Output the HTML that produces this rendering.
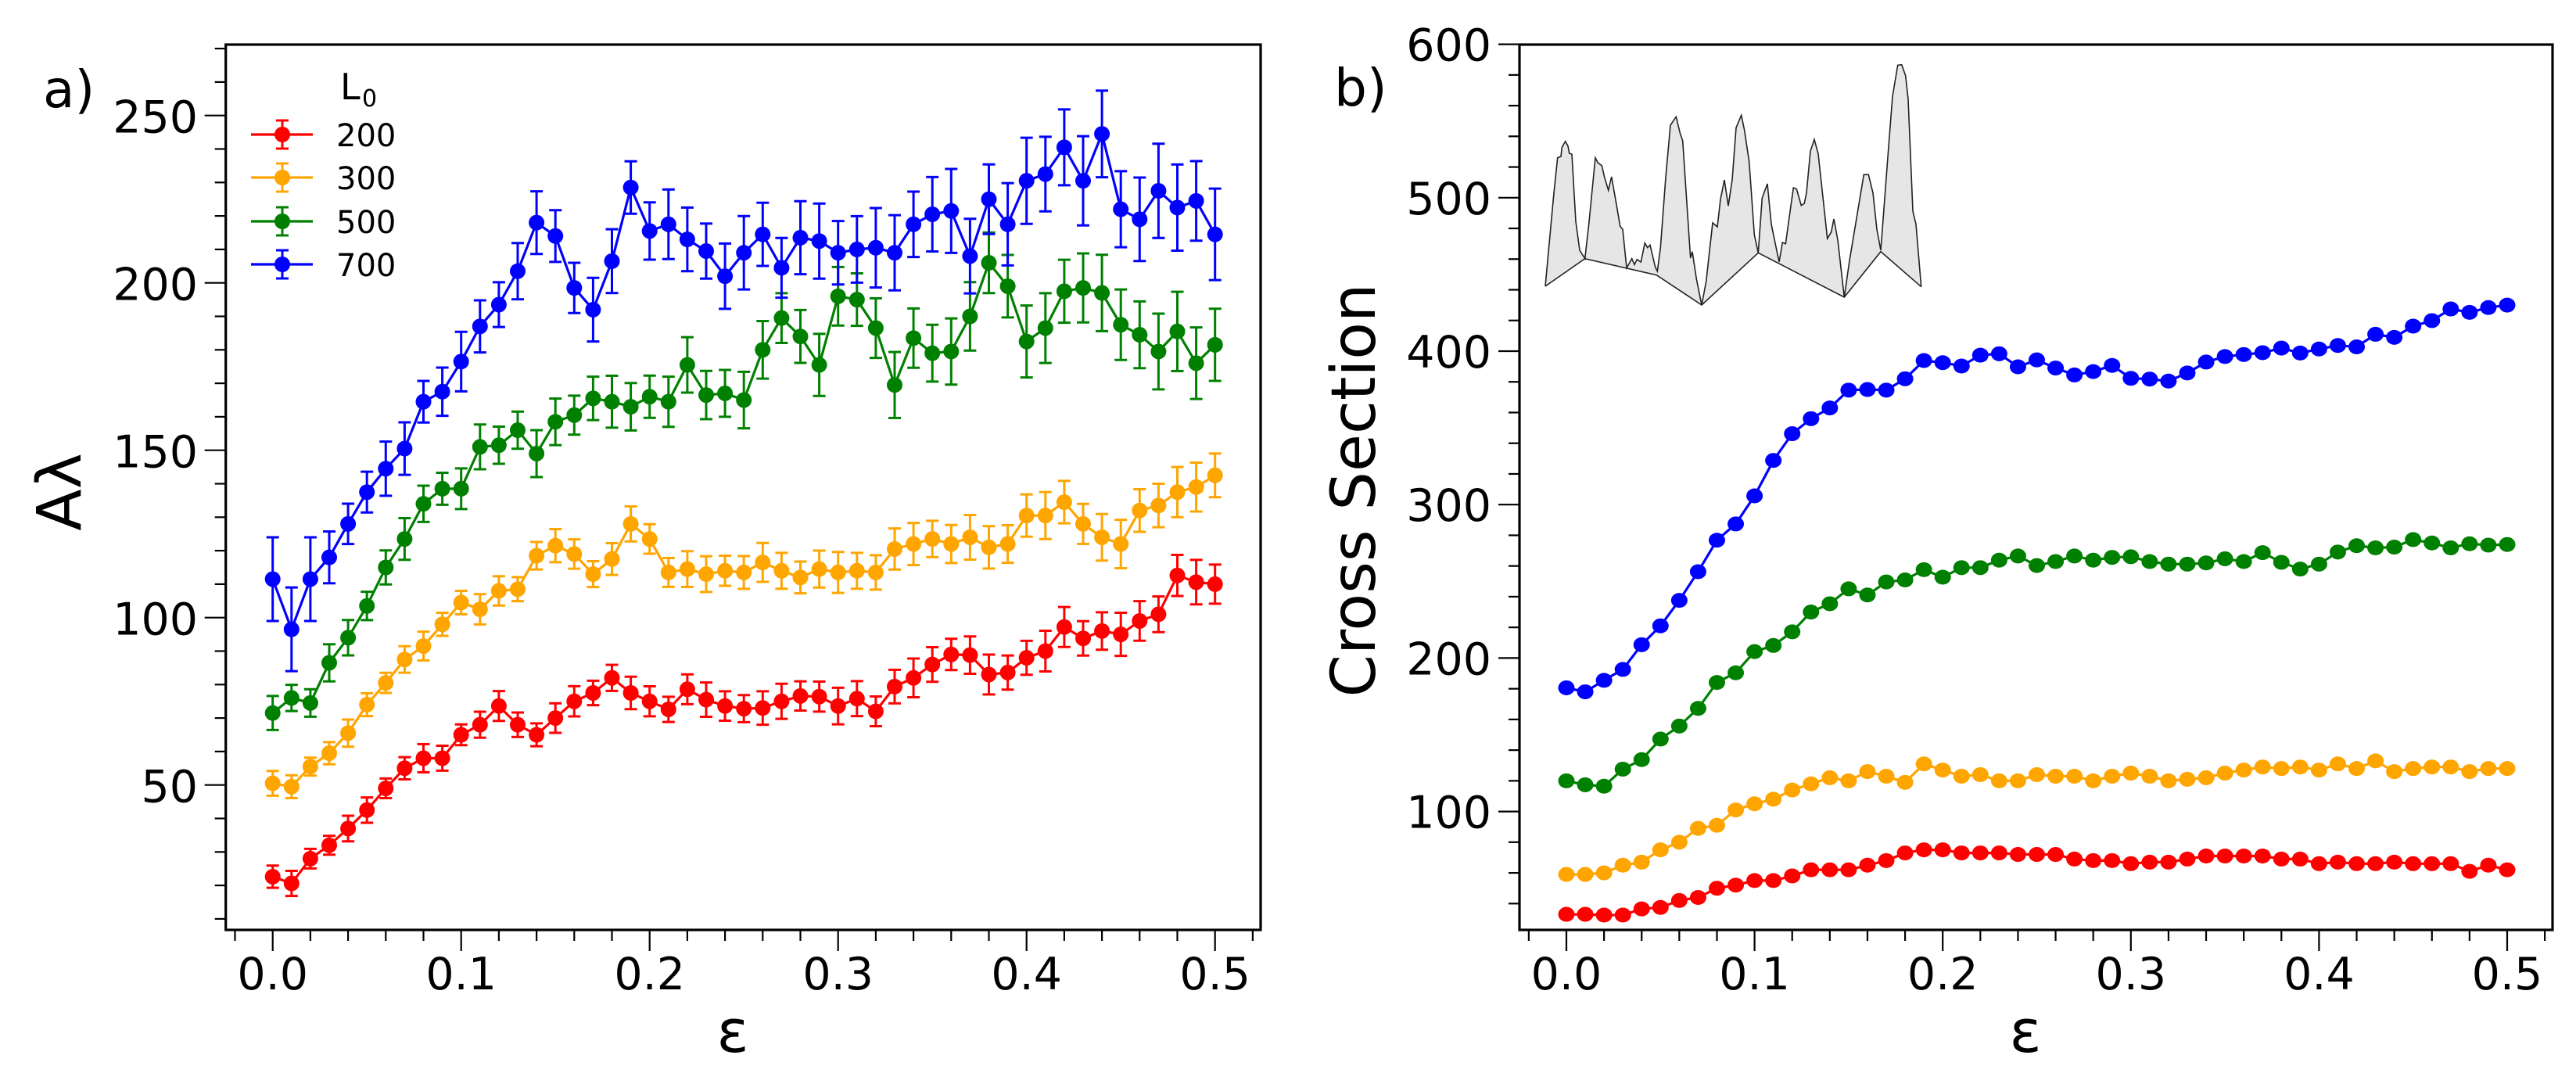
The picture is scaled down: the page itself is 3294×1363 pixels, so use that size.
<!DOCTYPE html>
<html><head><meta charset="utf-8"><style>
html,body{margin:0;padding:0;background:#fff;}
svg{display:block;}
text{font-family:"DejaVu Sans","Liberation Sans",sans-serif;fill:#000;}
</style></head><body>
<svg id="s" width="3294" height="1363" viewBox="0 0 3294 1363" xmlns="http://www.w3.org/2000/svg">
<rect width="3294" height="1363" fill="#fff"/>
<g id="g"></g>
</svg>
<script>
(function(){
const NS="http://www.w3.org/2000/svg";
const G=document.getElementById('g');
function el(t,a,txt){const e=document.createElementNS(NS,t);for(const k in a)e.setAttribute(k,a[k]);if(txt!==undefined)e.textContent=txt;G.appendChild(e);return e;}
const C={r:'#ff0000',o:'#ffa500',g:'#008000',b:'#0000ff'};
const eps=[];for(let i=0;i<=50;i++)eps.push(i/100);

// ---------- Panel a ----------
const A={L:288.7,R:1612,T:57,B:1189,x:e=>348.7+2410*e,y:v=>1217.7-4.28*v};
const aR=[22.6,20.6,28,32,37,42.5,49,55,58,58,65,68,73.6,68,65,70,75,77.5,82,77.5,75,72.6,78.6,75.5,73.6,72.8,73,75,76.6,76.4,73.6,75.8,72,79.4,82,86,89,88.8,83,83.6,88,90,97.2,93.8,96,95,99,101,112.6,110.6,110];
const aO=[50.5,49.5,55.5,59.5,65.5,74,80.5,87.5,91.5,98,104.5,102.5,108,108.5,118.5,121.5,119,113,117.5,128,123.5,113.5,114.5,113,114,113.5,116.5,114,112,114.5,113.5,114,113.5,120.5,122,123.5,122,124,121,122,130.5,130.5,134.5,128,124,122,132,133.5,137.5,139,142.5];
const aG=[71.5,76,74.5,86.5,94,103.5,115,123.5,134,138.5,138.5,151,151.5,156,149,158.5,160.5,165.5,164.5,163,166,164.5,175.5,166.5,167,165,180,189.5,184,175.5,196,195,186.5,169.5,183.5,179,179.5,190,206,199,182.5,186.5,197.5,198.5,197,187.5,184.5,179.5,185.5,176,181.5];
const aB=[111.5,96.5,111.5,118,128,137.5,144.5,150.5,164.5,167.5,176.5,187,193.5,203.5,218,214,198.5,192,206.5,228.5,215.5,217.5,213,209.5,202,209,214.5,204.5,213.5,212.5,209,210,210.5,209,217.5,220.5,221.5,208,225,217.5,230.5,232.5,240.5,230.5,244.5,222,219,227.5,222.5,224.5,214.5];
function err(base,slope,i,seed){return base+slope*i/50+(Math.sin(i*1.7+seed)*0.5+0.5)*base*0.5;}
function drawA(d,col,base,slope,seed){
  let p=d.map((v,i)=>A.x(eps[i]).toFixed(1)+','+A.y(v).toFixed(1)).join(' ');
  el('polyline',{points:p,fill:'none',stroke:col,'stroke-width':3.2});
  d.forEach((v,i)=>{const x=A.x(eps[i]);let e=err(base,slope,i,seed);if(col===C.b&&i<3)e=12.5;
    const y1=A.y(v+e),y2=A.y(v-e);
    el('line',{x1:x,x2:x,y1:y1,y2:y2,stroke:col,'stroke-width':3});
    el('line',{x1:x-8,x2:x+8,y1:y1,y2:y1,stroke:col,'stroke-width':3});
    el('line',{x1:x-8,x2:x+8,y1:y2,y2:y2,stroke:col,'stroke-width':3});
    el('circle',{cx:x,cy:A.y(v),r:10,fill:col});});
}
drawA(aR,C.r,2.5,3,0.3);drawA(aO,C.o,2.5,4,1.1);drawA(aG,C.g,3.5,7,2.2);drawA(aB,C.b,5,7,3.3);

function frame(P){el('rect',{x:P.L,y:P.T,width:P.R-P.L,height:P.B-P.T,fill:'none',stroke:'#000','stroke-width':3.2});}
frame(A);
for(let k=-1;k<=26;k++){const x=A.x(k*0.02);if(x<A.L||x>A.R)continue;const maj=(k%5===0);
  el('line',{x1:x,x2:x,y1:A.B,y2:A.B+(maj?27:14),stroke:'#000','stroke-width':2.2});
  if(maj&&k>=0)el('text',{x:x,y:1265,'font-size':57,'text-anchor':'middle'},(k/50).toFixed(1));}
for(let v=10;v<=270;v+=10){const y=A.y(v);if(y<A.T||y>A.B)continue;const maj=(v%50===0);
  el('line',{x1:A.L,x2:A.L-(maj?27:14),y1:y,y2:y,stroke:'#000','stroke-width':2.2});
  if(maj)el('text',{x:253,y:y+22,'font-size':57,'text-anchor':'end'},String(v));}
el('text',{x:55,y:137,'font-size':66},'a)');
el('text',{x:937,y:1345,'font-size':76,'text-anchor':'middle'},'ε');
el('text',{x:0,y:0,'font-size':78,'text-anchor':'middle',transform:'translate(103,629) rotate(-90)'},'Aλ');
el('text',{x:435,y:127,'font-size':46},'L');
el('text',{x:463,y:136,'font-size':30},'0');
[['200',C.r,172],['300',C.o,227],['500',C.g,283],['700',C.b,338]].forEach(([t,c,y])=>{
  el('line',{x1:321,x2:400,y1:y,y2:y,stroke:c,'stroke-width':3.2});
  el('line',{x1:361,x2:361,y1:y-18,y2:y+18,stroke:c,'stroke-width':3});
  el('line',{x1:353,x2:369,y1:y-18,y2:y-18,stroke:c,'stroke-width':3});
  el('line',{x1:353,x2:369,y1:y+18,y2:y+18,stroke:c,'stroke-width':3});
  el('circle',{cx:361,cy:y,r:10,fill:c});
  el('text',{x:430,y:y+15,'font-size':40},t);});

// ---------- Panel b ----------
const B={L:1943,R:3264,T:57,B:1189,x:e=>2003+2406*e,y:v=>1233.8-1.962*v};
const bB=[180.6,178,185.5,192.6,208.7,221,237.6,256.3,276.8,287.4,305.7,328.8,346.2,356,363,374.6,375,374.6,382,393.9,392.5,390.3,397.4,398.3,389.8,394.3,389,384.5,386.7,390.7,382.3,381.8,380.5,385.8,392.9,396.5,397.8,399,402,398.8,401.4,403.7,402.8,411,409,416.3,419.9,427.5,425.3,428.4,430];
const bG=[120,117.4,116.5,127.6,133.8,147.2,155.7,167.2,184.1,190.4,204.2,208.2,217.1,230,235.4,245.1,241.1,249.6,250.9,257.6,252.7,258.9,258.9,263.8,266.5,260.3,262.9,266.5,263.8,265.6,266,262.9,261.2,261.2,262,264.7,262.9,268.7,262.4,258,261.2,269.1,273.2,271.8,272.3,277.2,275,271.8,274.5,273.6,274];
const bO=[59,59,60,65,67,75,80,89,91,101,105,108,114,118,122,120,126,123,119,131,127,123,124,120,120,124,123,123,120,123,125,123,120,121,122,125,127,129,128,129,127,131,128,133,126,128,129,129,126,128,128];
const bR=[33,33,32.5,32.5,36.5,37.5,42,44,50,52,55,55,58,62,62,62,65,68,73,75,75,73,73,73,72,72,72,69,68,68,66,67,67,69,71,71,71,71,69,69,66,67,66,66,67,66,66,66,61,65,62];
function drawB(d,col){
  el('polyline',{points:d.map((v,i)=>B.x(eps[i]).toFixed(1)+','+B.y(v).toFixed(1)).join(' '),fill:'none',stroke:col,'stroke-width':3.2});
  d.forEach((v,i)=>el('ellipse',{cx:B.x(eps[i]),cy:B.y(v),rx:10.5,ry:9.5,fill:col}));}
drawB(bR,C.r);drawB(bO,C.o);drawB(bG,C.g);drawB(bB,C.b);
frame(B);
for(let k=-1;k<=26;k++){const x=B.x(k*0.02);if(x<B.L||x>B.R)continue;const maj=(k%5===0);
  el('line',{x1:x,x2:x,y1:B.B,y2:B.B+(maj?27:14),stroke:'#000','stroke-width':2.2});
  if(maj&&k>=0)el('text',{x:x,y:1265,'font-size':57,'text-anchor':'middle'},(k/50).toFixed(1));}
for(let v=40;v<=600;v+=20){const y=B.y(v);if(y<B.T-1||y>B.B)continue;const maj=(v%100===0);
  el('line',{x1:B.L,x2:B.L-(maj?27:14),y1:y,y2:y,stroke:'#000','stroke-width':2.2});
  if(maj)el('text',{x:1907,y:y+21,'font-size':57,'text-anchor':'end'},String(v));}
el('text',{x:1706,y:135,'font-size':66},'b)');
el('text',{x:2590,y:1345,'font-size':76,'text-anchor':'middle'},'ε');
el('text',{x:0,y:0,'font-size':78,'text-anchor':'middle',textLength:529,lengthAdjust:'spacingAndGlyphs',transform:'translate(1758,627) rotate(-90)'},'Cross  Section');

const topPts=[[48,918],[80,570],[95,425],[108,420],[112,385],[125,362],[135,380],[140,408],[150,412],[165,670],[180,780],[200,812],[215,680],[240,425],[250,445],[265,455],[275,500],[290,550],[302,498],[322,610],[335,688],[345,700],[360,848],[380,812],[390,835],[400,815],[415,825],[430,752],[440,770],[450,760],[470,845],[478,860],[490,770],[510,500],[528,300],[550,268],[565,330],[575,360],[605,810],[612,785],[628,890],[648,990],[665,900],[690,675],[708,690],[720,585],[735,510],[750,610],[765,510],[780,310],[800,262],[812,320],[830,440],[850,720],[865,790],[880,580],[900,525],[915,680],[945,825],[958,750],[970,755],[990,610],[1000,540],[1012,545],[1030,608],[1042,600],[1050,560],[1065,400],[1080,355],[1095,410],[1130,735],[1145,710],[1155,660],[1170,740],[1195,960],[1215,820],[1245,640],[1270,490],[1288,490],[1305,560],[1320,700],[1335,780],[1360,450],[1380,190],[1400,70],[1415,68],[1430,110],[1440,200],[1458,630],[1470,680],[1490,920]];
const basePts=[[1490,920],[1335,785],[1195,960],[865,790],[648,990],[475,875],[200,812],[48,918]];
const tf=p=>(1960+p[0]/3).toFixed(1)+','+(60+p[1]/3).toFixed(1);
el('polygon',{points:topPts.concat(basePts).map(tf).join(' '),fill:'#e6e6e6',stroke:'none'});
el('polyline',{points:topPts.map(tf).join(' '),fill:'none',stroke:'#222','stroke-width':1.6});
el('polyline',{points:basePts.map(tf).join(' '),fill:'none',stroke:'#222','stroke-width':1.6});
})();
</script>
</body></html>
